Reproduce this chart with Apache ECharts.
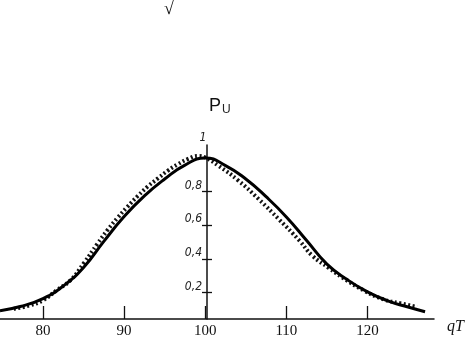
<!DOCTYPE html>
<html>
<head>
<meta charset="utf-8">
<script src="https://cdn.jsdelivr.net/npm/echarts@6/dist/echarts.min.js"></script>
<style>html,body{margin:0;padding:0;background:#fff}#c{width:468px;height:342px}</style>
</head>
<body>
<div id="c"></div>
<script>
const xTicks = [80, 90, 100, 110, 120];
const yTicks = [0.2, 0.4, 0.6, 0.8];
// theoretical curve (solid)
const curveQT = [74.7, 77.2, 80, 82.5, 85, 87.5, 90, 92.5, 95, 97.5, 100, 102.5, 105, 107.5, 110, 112.5, 115, 117.5, 120, 122.5, 125, 127.1];
const curveP  = [0.093, 0.118, 0.165, 0.24, 0.35, 0.505, 0.652, 0.775, 0.875, 0.958, 1.0, 0.955, 0.875, 0.77, 0.65, 0.51, 0.37, 0.278, 0.205, 0.152, 0.115, 0.087];
// measured points (dotted)
const measQT = [76.4, 78.4, 80, 81.7, 83.4, 85.1, 86.7, 88, 89.2, 90.4, 91.7, 92.9, 94.2, 95.4, 96.6, 97.9, 99.1, 100, 101.6, 104.1, 106.6, 109.1, 111.6, 113.2, 115.3, 116.9, 119.6, 122, 124, 126.1];
const measP  = [0.105, 0.125, 0.155, 0.215, 0.275, 0.38, 0.49, 0.575, 0.645, 0.71, 0.775, 0.83, 0.88, 0.925, 0.962, 0.995, 1.012, 1.003, 0.955, 0.865, 0.755, 0.635, 0.51, 0.42, 0.345, 0.29, 0.212, 0.16, 0.138, 0.115];

const toData = (xs, ys) => xs.map((x, i) => [x, ys[i]]);
const chart = echarts.init(document.getElementById('c'), null, {renderer: 'canvas'});
const yMin = 0.044, yMax = 1.077;
const xMin = 74.7, xMax = 128.2;
chart.setOption({
  animation: false,
  backgroundColor: '#fff',
  grid: [
    {left: 0, right: 34, top: 145, bottom: 23, containLabel: false, outerBoundsMode: 'none'},
    {left: 207, right: 34, top: 145, bottom: 23, containLabel: false, outerBoundsMode: 'none'}
  ],
  title: {
    text: '{p|P}{u|U}', left: 204, top: 92,
    textStyle: {rich: {
      p: {fontFamily: 'Liberation Sans', fontSize: 18, fontWeight: 'normal', color: '#111'},
      u: {fontFamily: 'Liberation Sans', fontSize: 12, fontWeight: 'normal', color: '#222', padding: [7, 0, 0, 1]}
    }}
  },
  graphic: [{type: 'text', left: 164, top: 0, style: {text: '√', font: '18px "Liberation Serif"', fill: '#111'}}],
  xAxis: [{
    type: 'value', gridIndex: 0, min: xMin, max: xMax,
    axisLine: {onZero: false, lineStyle: {color: '#111', width: 1.5}},
    axisTick: {inside: true, length: 13, customValues: xTicks, lineStyle: {color: '#111', width: 1.3}},
    axisLabel: {customValues: xTicks, formatter: v => String(Math.round(v)),
      fontFamily: 'Liberation Serif', fontSize: 15, color: '#111', margin: 5},
    splitLine: {show: false},
    name: 'qT', nameLocation: 'end', nameGap: 13,
    nameTextStyle: {fontFamily: 'Liberation Serif', fontStyle: 'italic', fontSize: 16, color: '#111', verticalAlign: 'top'}
  }, {
    type: 'value', gridIndex: 1, min: 0, max: 1, show: false
  }],
  yAxis: [{
    type: 'value', gridIndex: 0, min: yMin, max: yMax, show: false
  }, {
    type: 'value', gridIndex: 1, min: yMin, max: yMax, position: 'left',
    axisLine: {show: true, onZero: false, lineStyle: {color: '#111', width: 1.5}},
    axisTick: {show: true, length: 5, customValues: yTicks, lineStyle: {color: '#111', width: 1.3}},
    axisLabel: {customValues: yTicks, formatter: v => v.toFixed(1).replace('.', ','), fontFamily: 'DejaVu Sans Condensed',
      fontStyle: 'italic', fontSize: 12, color: '#222', verticalAlign: 'bottom', margin: 5},
    splitLine: {show: false},
    name: '1', nameLocation: 'end', nameGap: 1,
    nameTextStyle: {fontFamily: 'DejaVu Sans Condensed', fontStyle: 'italic', fontSize: 12, color: '#222', padding: [0, 8, 0, 0]}
  }, {
    type: 'value', gridIndex: 1, min: yMin, max: yMax, position: 'left',
    axisLine: {show: false, onZero: false},
    axisTick: {show: true, inside: true, length: 5, customValues: yTicks, lineStyle: {color: '#111', width: 1.3}},
    axisLabel: {show: false},
    splitLine: {show: false}
  }],
  series: [{
    type: 'line', xAxisIndex: 0, yAxisIndex: 0, data: toData(measQT, measP), smooth: true, showSymbol: false,
    lineStyle: {color: '#111', width: 4, type: [2, 2.5]}, z: 2
  }, {
    type: 'line', xAxisIndex: 0, yAxisIndex: 0, data: toData(curveQT, curveP), smooth: true, showSymbol: false,
    lineStyle: {color: '#000', width: 3}, z: 3
  }]
});
</script>
</body>
</html>
